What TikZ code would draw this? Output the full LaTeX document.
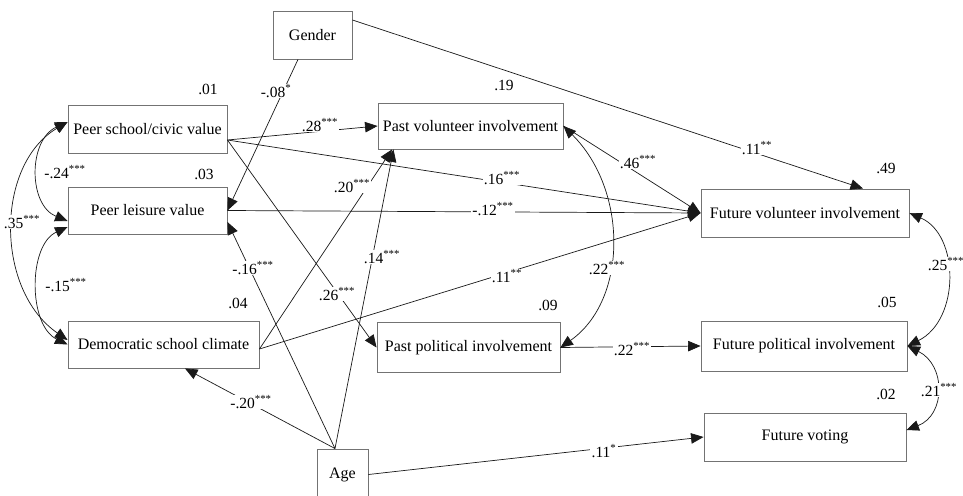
\documentclass[tikz,border=0pt]{standalone}
\usepackage{fontspec}
\setmainfont{Liberation Serif}
\usetikzlibrary{arrows.meta}
\newcommand{\sg}[1]{\textsuperscript{#1}}
\tikzset{
  box/.style={draw=black!55, line width=0.9pt, fill=white, inner sep=0pt,
    font=\fontsize{16}{19}\selectfont},
  lbl/.style={fill=white, inner sep=1.2pt, font=\fontsize{15.5}{18}\selectfont},
  rsq/.style={inner sep=0pt, font=\fontsize{15.5}{18}\selectfont},
  arr/.style={draw=black!90, line width=0.7pt, -{Triangle[length=12.5pt,width=10.5pt]}},
  dbl/.style={draw=black!90, line width=0.7pt,
    {Triangle[length=12.5pt,width=10.5pt]}-{Triangle[length=12.5pt,width=10.5pt]}},
}
\begin{document}
\begin{tikzpicture}[x=1pt,y=-1pt]
\useasboundingbox (0,0) rectangle (963,495);
\fill[white] (0,0) rectangle (963,495);

% boxes
\node[box, minimum width=79pt,  minimum height=48pt] (gender) at (312.5,35)  {Gender};
\node[box, minimum width=159pt, minimum height=48pt] (pscv)   at (147.5,129) {Peer school/civic value};
\node[box, minimum width=159pt, minimum height=47pt] (plv)    at (147.5,210.5) {Peer leisure value};
\node[box, minimum width=191pt, minimum height=47pt] (dsc)    at (163.5,344.5) {Democratic school climate};
\node[box, minimum width=185pt, minimum height=46pt] (pvi)    at (470.5,126) {Past volunteer involvement};
\node[box, minimum width=183pt, minimum height=50pt] (ppi)    at (468.5,347.5) {Past political involvement};
\node[box, minimum width=51pt,  minimum height=51pt] (age)    at (342.5,474.5) {Age};
\node[box, minimum width=208pt, minimum height=48pt] (fvi)    at (805,213) {Future volunteer involvement};
\node[box, minimum width=206pt, minimum height=50pt] (fpi)    at (804,346) {Future political involvement};
\node[box, minimum width=202pt, minimum height=48pt] (fv)     at (805,437) {Future voting};

% R-squared values
\node[rsq] (r01) at (208,89)  {.01};
\node[rsq] (r03) at (204,174) {.03};
\node[rsq] (r04) at (238,303) {.04};
\node[rsq] (r19) at (504,85)  {.19};
\node[rsq] (r09) at (548,305) {.09};
\node[rsq] (r49) at (886,168) {.49};
\node[rsq] (r05) at (887,302) {.05};
\node[rsq] (r02) at (886,394) {.02};

% directed paths
\draw[arr] ([xshift=-14.5pt]gender.south) -- (plv.east);
\draw[arr] ([yshift=15pt]gender.east) -- ([xshift=58pt]fvi.north);
\draw[arr] ([yshift=-11pt]pscv.east) -- (pvi.west);
\draw[arr] ([yshift=-11pt]pscv.east) -- (fvi.west);
\draw[arr] ([yshift=-11pt]pscv.east) -- (ppi.west);
\draw[arr] (plv.east) -- (fvi.west);
\draw[arr] ([yshift=-4.5pt]dsc.east) -- ([xshift=-78.5pt]pvi.south);
\draw[arr] ([yshift=-4.5pt]dsc.east) -- (fvi.west);
\draw[arr] ([xshift=-7.5pt]age.north) -- ([yshift=-11.5pt]plv.east);
\draw[arr] ([xshift=-7.5pt]age.north) -- ([xshift=-77pt]pvi.south);
\draw[arr] ([xshift=-7.5pt]age.north) -- ([xshift=21.5pt]dsc.south);
\draw[arr] (age.east) -- (fv.west);
\draw[arr] (pvi.east) -- (fvi.west);
\draw[arr] (ppi.east) -- (fpi.west);

% correlations
\draw[dbl] ([yshift=7pt]pscv.west) .. controls (-5,165) and (-5,290) .. ([yshift=4.5pt]dsc.west);
\draw[dbl] ([yshift=7pt]pscv.west) .. controls (28,140) and (28,205) .. ([yshift=-10.5pt]plv.west);
\draw[dbl] ([yshift=-16.5pt]plv.west) .. controls (28,245) and (28,325) .. (dsc.west);
\draw[dbl] (pvi.east) .. controls (628,190) and (628,300) .. (ppi.east);
\draw[dbl] (fvi.east) .. controls (960,235) and (960,320) .. (fpi.east);
\draw[dbl] (fpi.east) .. controls (946,365) and (946,415) .. ([yshift=7pt]fv.east);

% coefficient labels
\node[lbl] (l08)  at (276,91)  {-.08\sg{*}};
\node[lbl] (l28)  at (320,125) {.28\sg{***}};
\node[lbl] (l16a) at (502,178) {.16\sg{***}};
\node[lbl] (l12)  at (493,209) {-.12\sg{***}};
\node[lbl] (l46)  at (638,162) {.46\sg{***}};
\node[lbl] (l20)  at (352,186) {.20\sg{***}};
\node[lbl] (l11g) at (757,148) {.11\sg{**}};
\node[lbl] (l16b) at (253,268) {-.16\sg{***}};
\node[lbl] (l26)  at (337,294) {.26\sg{***}};
\node[lbl] (l14)  at (382,257) {.14\sg{***}};
\node[lbl] (l11d) at (507,276) {.11\sg{**}};
\node[lbl] (l22c) at (607,268) {.22\sg{***}};
\node[lbl] (l22p) at (632,349) {.22\sg{***}};
\node[lbl] (l20b) at (251,402) {-.20\sg{***}};
\node[lbl] (l11a) at (604,451) {.11\sg{*}};
\node[lbl] (l25)  at (946,264) {.25\sg{***}};
\node[lbl] (l21)  at (939,390) {.21\sg{***}};
\node[lbl] (l35)  at (22,222)  {.35\sg{***}};
\node[lbl] (l24)  at (65,172)  {-.24\sg{***}};
\node[lbl] (l15)  at (66,285)  {-.15\sg{***}};
\end{tikzpicture}
\end{document}
